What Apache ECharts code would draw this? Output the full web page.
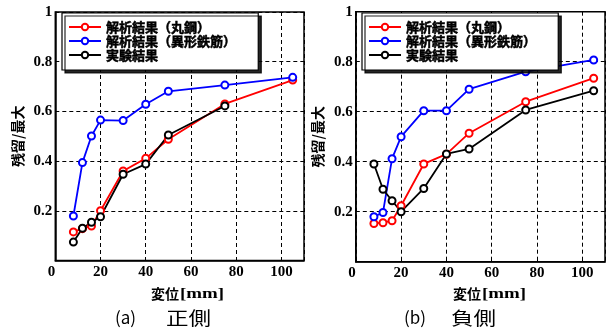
<!DOCTYPE html>
<html>
<head>
<meta charset="utf-8">
<script src="https://cdn.jsdelivr.net/npm/echarts@6/dist/echarts.min.js"></script>
<style>
html,body{margin:0;padding:0;background:#fff;}
#c{width:608px;height:331px;}
</style>
</head>
<body>
<div id="c"></div>
<script>
// ---- data ----
const xs = [8, 12, 16, 20, 30, 40, 50, 75, 105];
const seriesNames = ['解析結果（丸鋼）', '解析結果（異形鉄筋）', '実験結果'];
// (a) 正側
const redA   = [0.115, 0.128, 0.139, 0.200, 0.360, 0.411, 0.488, 0.630, 0.726];
const blueA  = [0.179, 0.394, 0.501, 0.565, 0.563, 0.629, 0.681, 0.706, 0.737];
const blackA = [0.074, 0.130, 0.154, 0.176, 0.347, 0.388, 0.505, 0.622];
// (b) 負側
const redB   = [0.153, 0.156, 0.164, 0.224, 0.391, 0.430, 0.514, 0.640, 0.734];
const blueB  = [0.180, 0.197, 0.412, 0.500, 0.604, 0.604, 0.690, 0.760, 0.807];
const blackB = [0.391, 0.290, 0.244, 0.200, 0.293, 0.431, 0.451, 0.607, 0.684];
const xTicks = [0, 20, 40, 60, 80, 100];
const yTicks = [0.2, 0.4, 0.6, 0.8, 1];
const xName1 = '変位';
const xName2 = '[mm]';
const yName = '残留/最大';
const subLabels = ['(a)', '(b)'];
const subNames = ['正側', '負側'];

const colors = ['#ff0000', '#0000ff', '#000000'];
const serif = '"Liberation Serif", "Times New Roman", serif';
const cjk = '"Noto Sans CJK JP", "Noto Sans CJK SC", sans-serif';

function pairs(ys) { return ys.map((y, i) => [xs[i], y]); }

const grids = [
  {left: 55.3, right: 608 - 304, top: 12, bottom: 331 - 260.5},
  {left: 355.8, right: 608 - 605, top: 11.7, bottom: 331 - 261.7}
];

function xAxisOf(i) {
  return {
    type: 'value', gridIndex: i, min: 0, max: 110, interval: 20,
    axisLine: {show: true, onZero: false, lineStyle: {color: '#000', width: 1.5}},
    axisTick: {show: true, inside: true, length: 3, lineStyle: {color: '#000'}},
    axisLabel: {
      margin: 4, color: '#000', fontFamily: serif, fontWeight: 'bold', fontSize: 15,
      showMaxLabel: false, alignMinLabel: 'right',
      formatter: v => xTicks.includes(v) ? String(v) : ''
    },
    splitLine: {show: true, lineStyle: {color: '#000', type: [4, 3], width: 1}}
  };
}
function yAxisOf(i) {
  return {
    type: 'value', gridIndex: i, min: 0, max: 1, interval: 0.2,
    name: yName, nameLocation: 'middle', nameGap: 31, nameRotate: 90,
    nameTextStyle: {color: '#000', fontFamily: cjk, fontWeight: 'bold', fontSize: 14},
    axisLine: {show: true, onZero: false, lineStyle: {color: '#000', width: 1.5}},
    axisTick: {show: true, inside: true, length: 3, lineStyle: {color: '#000'}},
    axisLabel: {
      margin: 3, color: '#000', fontFamily: serif, fontWeight: 'bold', fontSize: 15,
      showMinLabel: false,
      formatter: v => {
        const r = Math.round(v * 10) / 10;
        return yTicks.some(t => Math.abs(t - r) < 1e-9) ? String(r) : '';
      }
    },
    splitLine: {show: true, lineStyle: {color: '#000', type: [4, 3], width: 1}}
  };
}

function lineSeries(name, ys, color, gi) {
  return {
    type: 'line', name: name, xAxisIndex: gi, yAxisIndex: gi,
    data: pairs(ys), symbol: 'emptyCircle', symbolSize: 7,
    lineStyle: {color: color, width: 1.8},
    itemStyle: {color: color, borderColor: color, borderWidth: 1.8},
    emphasis: {disabled: true}, animation: false
  };
}

function legendOf(left) {
  return {
    left: left, top: 13, orient: 'vertical', data: seriesNames,
    itemWidth: 32, itemHeight: 8, itemGap: 0,
    padding: [7, 22, 8, 6],
    backgroundColor: '#fff', borderColor: '#000', borderWidth: 1.2,
    shadowColor: 'rgba(0,0,0,0.85)', shadowOffsetX: 3, shadowOffsetY: 3, shadowBlur: 0,
    textStyle: {color: '#000', fontFamily: cjk, fontWeight: 'bold', fontSize: 13, lineHeight: 14,
      textBorderColor: '#000', textBorderWidth: 0.5},
    selectedMode: false
  };
}

const chart = echarts.init(document.getElementById('c'), null, {renderer: 'canvas'});

function nameTexts(cx) {
  return [
    {type: 'text', x: cx, y: 294, style: {text: xName1, align: 'right', verticalAlign: 'middle',
      fontFamily: cjk, fontWeight: 'bold', fontSize: 14, fill: '#000'}},
    {type: 'text', x: cx + 1, y: 294, scaleX: 1.35, style: {text: xName2, align: 'left', verticalAlign: 'middle',
      fontFamily: serif, fontWeight: 'bold', fontSize: 14, fill: '#000'}}
  ];
}
function subTexts(lx, rx, i) {
  return [
    {type: 'text', x: lx, y: 318, style: {text: subLabels[i], align: 'left', verticalAlign: 'middle',
      fontFamily: cjk, fontSize: 17, fill: '#000'}},
    {type: 'text', x: rx, y: 318, scaleX: 1.25, style: {text: subNames[i], align: 'right', verticalAlign: 'middle',
      fontFamily: cjk, fontSize: 18, fill: '#000'}}
  ];
}

chart.setOption({
  backgroundColor: '#fff',
  animation: false,
  grid: grids.map(g => Object.assign({show: true, borderColor: '#000', borderWidth: 1.5, backgroundColor: 'transparent'}, g)),
  xAxis: [xAxisOf(0), xAxisOf(1)],
  yAxis: [yAxisOf(0), yAxisOf(1)],
  legend: [legendOf(62), legendOf(362)],
  series: [
    lineSeries(seriesNames[0], redA, colors[0], 0),
    lineSeries(seriesNames[1], blueA, colors[1], 0),
    lineSeries(seriesNames[2], blackA, colors[2], 0),
    lineSeries(seriesNames[0], redB, colors[0], 1),
    lineSeries(seriesNames[1], blueB, colors[1], 1),
    lineSeries(seriesNames[2], blackB, colors[2], 1)
  ],
  graphic: [
    ...nameTexts(179),
    ...nameTexts(481),
    ...subTexts(115, 211, 0),
    ...subTexts(404, 496, 1)
  ]
});
</script>
</body>
</html>
